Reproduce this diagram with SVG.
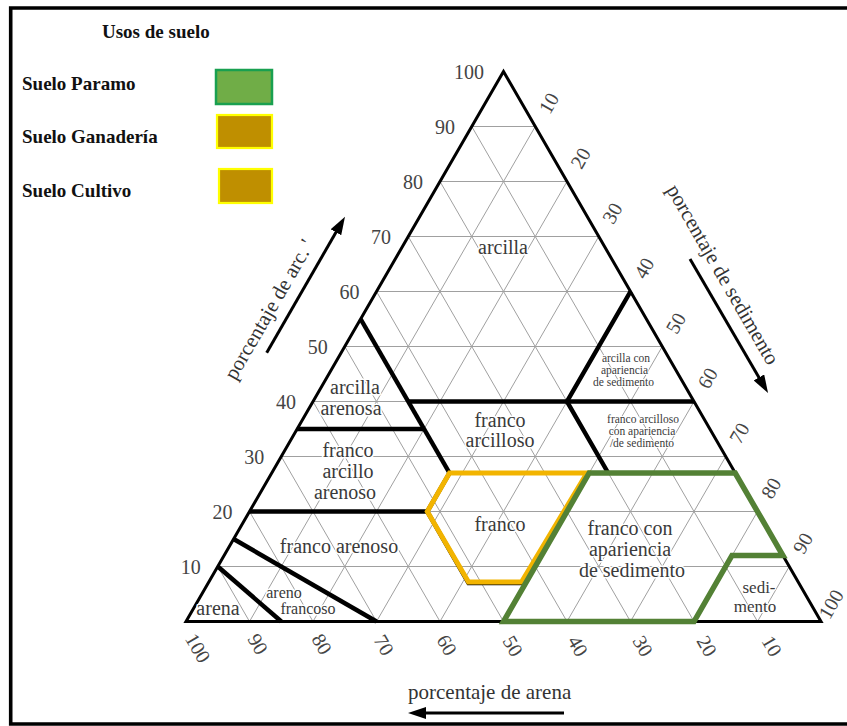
<svg xmlns="http://www.w3.org/2000/svg" width="847" height="726" viewBox="0 0 847 726">
<defs>
<style>
.grid{stroke:#a0a0a0;stroke-width:1;fill:none}
.outline{stroke:#000;stroke-width:3;fill:none;stroke-linejoin:miter}
.bnd{stroke:#000;stroke-width:4.5;fill:none;stroke-linejoin:miter;stroke-linecap:butt}
.lbl{font-family:"Liberation Serif","Times New Roman",serif;font-size:20px;fill:#3a3a3a;text-anchor:middle;stroke:#fff;stroke-width:3;paint-order:stroke;stroke-linejoin:round}
.sm{font-size:11.5px;stroke-width:2}
.mid{font-size:16px}
.sd{font-size:17px;stroke-width:2}
.num{font-family:"Liberation Serif","Times New Roman",serif;font-size:20px;fill:#444}
.rn{text-anchor:middle}
.ln{text-anchor:end}
.axis{font-family:"Liberation Serif","Times New Roman",serif;font-size:21px;fill:#333}
.leg{font-family:"Liberation Serif","Times New Roman",serif;font-weight:bold;font-size:19px;fill:#111}
.arr{stroke:#000;stroke-width:3;fill:none}
</style>
<marker id="ah" viewBox="0 0 18 12" markerWidth="18" markerHeight="12" markerUnits="userSpaceOnUse" refX="4" refY="6" orient="auto">
<path d="M0,0 L18,6 L0,12 z" fill="#000"/>
</marker>
</defs>
<rect x="0" y="0" width="847" height="726" fill="#fff"/>
<path d="M847,8 H10.7 V724 H847" fill="none" stroke="#000" stroke-width="3.6"/>

<g id="legend">
<text class="leg" x="102" y="38" font-size="18">Usos de suelo</text>
<g id="leg-paramo">
<text class="leg" x="22" y="90">Suelo Paramo</text>
<rect x="216" y="70" width="56" height="34" fill="#70ad47" stroke="#19a050" stroke-width="2.5"/>
</g>
<g id="leg-ganaderia">
<text class="leg" x="22" y="143">Suelo Ganadería</text>
<rect x="217" y="115" width="55" height="33" fill="#bf8f00" stroke="#ffff00" stroke-width="2.2"/>
</g>
<g id="leg-cultivo">
<text class="leg" x="22" y="197">Suelo Cultivo</text>
<rect x="219" y="169" width="53" height="34" fill="#bf8f00" stroke="#ffff00" stroke-width="2.2"/>
</g>
</g>

<g id="grid">
<path class="grid" d="M217.75,566.5H789.25 M249.5,511.5H757.5 M281.25,456.5H725.75 M313,401.5H694 M344.75,346.5H662.25 M376.5,291.5H630.5 M408.25,236.5H598.75 M440,181.5H567 M471.75,126.5H535.25
M757.5,621.5L471.75,126.5 M694,621.5L440,181.5 M630.5,621.5L408.25,236.5 M567,621.5L376.5,291.5 M503.5,621.5L344.75,346.5 M440,621.5L313,401.5 M376.5,621.5L281.25,456.5 M313,621.5L249.5,511.5 M249.5,621.5L217.75,566.5
M249.5,621.5L535.25,126.5 M313,621.5L567,181.5 M376.5,621.5L598.75,236.5 M440,621.5L630.5,291.5 M503.5,621.5L662.25,346.5 M567,621.5L694,401.5 M630.5,621.5L725.75,456.5 M694,621.5L757.5,511.5 M757.5,621.5L789.25,566.5"/>
</g>

<g id="triangle">
<path class="outline" d="M503.5,71.5 L821,621.5 L186,621.5 Z"/>
</g>

<g id="connectors">
<path class="bnd" d="M360.6,319 L449.5,473"/>
<path class="bnd" d="M408.25,401.5 H694"/>
<path class="bnd" d="M297.1,429 H424.1"/>
<path class="bnd" d="M249.5,511.5 H427.3"/>
<path class="bnd" d="M630.5,291.5 L567,401.5 L608.2,473"/>
<path class="bnd" d="M233.6,539 L376.5,621.5"/>
<path class="bnd" d="M217.8,566.5 L281.3,621.5"/>
<path class="bnd" d="M449.5,473 L427.3,511.5 L468.5,583 L525.7,583"/>
<polygon id="zona-ganaderia-cultivo" points="449.5,473 587,473 521.5,582 468.5,582 427.3,511.5" fill="none" stroke="#f2b400" stroke-width="5" stroke-linejoin="miter"/>
<polygon id="zona-paramo" points="589.2,473 735.2,473 782.9,555.5 732,555.5 694,621.5 503.5,621.5" fill="none" stroke="#538135" stroke-width="5.5" stroke-linejoin="miter"/>
<line class="arr" x1="266.7" y1="352.7" x2="338" y2="228.8" marker-end="url(#ah)"/>
<line class="arr" x1="690" y1="259" x2="761" y2="380.9" marker-end="url(#ah)"/>
<line class="arr" x1="564" y1="713" x2="422" y2="713" marker-end="url(#ah)"/>
</g>

<g id="region-labels">
<g id="arcilla"><text class="lbl" x="503" y="254">arcilla</text></g>
<g id="arcilla-arenosa"><text class="lbl" x="355" y="394">arcilla</text><text class="lbl" x="351" y="415">arenosa</text></g>
<g id="franco-arcillo-arenoso"><text class="lbl" x="348" y="457">franco</text><text class="lbl" x="348" y="478">arcillo</text><text class="lbl" x="345" y="499">arenoso</text></g>
<g id="franco-arcilloso"><text class="lbl" x="500" y="427">franco</text><text class="lbl" x="500" y="447">arcilloso</text></g>
<g id="arcilla-sed"><text class="lbl sm" x="626" y="362">arcilla con</text><text class="lbl sm" x="624.5" y="374">apariencia</text><text class="lbl sm" x="623.5" y="386">de sedimento</text></g>
<g id="franco-arcilloso-sed"><text class="lbl sm" x="643" y="423">franco arcilloso</text><text class="lbl sm" x="642" y="435">con apariencia</text><text class="lbl sm" x="642" y="447">/de sedimento</text></g>
<g id="franco"><text class="lbl" x="500" y="531">franco</text></g>
<g id="franco-sed"><text class="lbl" x="630" y="535">franco con</text><text class="lbl" x="630" y="556">apariencia</text><text class="lbl" x="632" y="577">de sedimento</text></g>
<g id="franco-arenoso"><text class="lbl" x="339" y="553">franco arenoso</text></g>
<g id="sedimento"><text class="lbl sd" x="759" y="593">sedi-</text><text class="lbl sd" x="755" y="612">mento</text></g>
<g id="arena"><text class="lbl" x="218" y="615">arena</text></g>
<g id="areno-francoso"><text class="lbl mid" x="284" y="598">areno</text><text class="lbl mid" x="308" y="614">francoso</text></g>
</g>

<g id="left-numbers" class="num ln">
<text x="484" y="79">100</text>
<text x="455" y="134">90</text>
<text x="423" y="189">80</text>
<text x="391" y="244">70</text>
<text x="359.5" y="299">60</text>
<text x="327.75" y="354">50</text>
<text x="296" y="409">40</text>
<text x="264.25" y="464">30</text>
<text x="232.5" y="519">20</text>
<text x="200.75" y="574">10</text>
</g>

<g id="right-numbers" class="num rn">
<text transform="translate(548.75,103) rotate(-60)" dy="0.35em">10</text>
<text transform="translate(580.5,158) rotate(-60)" dy="0.35em">20</text>
<text transform="translate(612.25,213) rotate(-60)" dy="0.35em">30</text>
<text transform="translate(644,268) rotate(-60)" dy="0.35em">40</text>
<text transform="translate(675.75,323) rotate(-60)" dy="0.35em">50</text>
<text transform="translate(707.5,378) rotate(-60)" dy="0.35em">60</text>
<text transform="translate(739.25,433) rotate(-60)" dy="0.35em">70</text>
<text transform="translate(771,488) rotate(-60)" dy="0.35em">80</text>
<text transform="translate(802.75,543) rotate(-60)" dy="0.35em">90</text>
<text transform="translate(831,604) rotate(-60)" dy="0.35em">100</text>
</g>

<g id="bottom-numbers" class="num rn">
<text transform="translate(198,648) rotate(60)" dy="0.35em">100</text>
<text transform="translate(258,644) rotate(60)" dy="0.35em">90</text>
<text transform="translate(322,644) rotate(60)" dy="0.35em">80</text>
<text transform="translate(384,645) rotate(60)" dy="0.35em">70</text>
<text transform="translate(447,645) rotate(60)" dy="0.35em">60</text>
<text transform="translate(513,646) rotate(60)" dy="0.35em">50</text>
<text transform="translate(578,646) rotate(60)" dy="0.35em">40</text>
<text transform="translate(643,646) rotate(60)" dy="0.35em">30</text>
<text transform="translate(707,646) rotate(60)" dy="0.35em">20</text>
<text transform="translate(772,646) rotate(60)" dy="0.35em">10</text>
</g>

<g id="axis-labels">
<text class="axis" text-anchor="middle" transform="translate(275,313) rotate(-60)">porcentaje de arc. '</text>
<text class="axis" text-anchor="middle" transform="translate(717,278) rotate(60)">porcentaje de sedimento</text>
<text class="axis" x="408" y="699">porcentaje de arena</text>
</g>
</svg>
